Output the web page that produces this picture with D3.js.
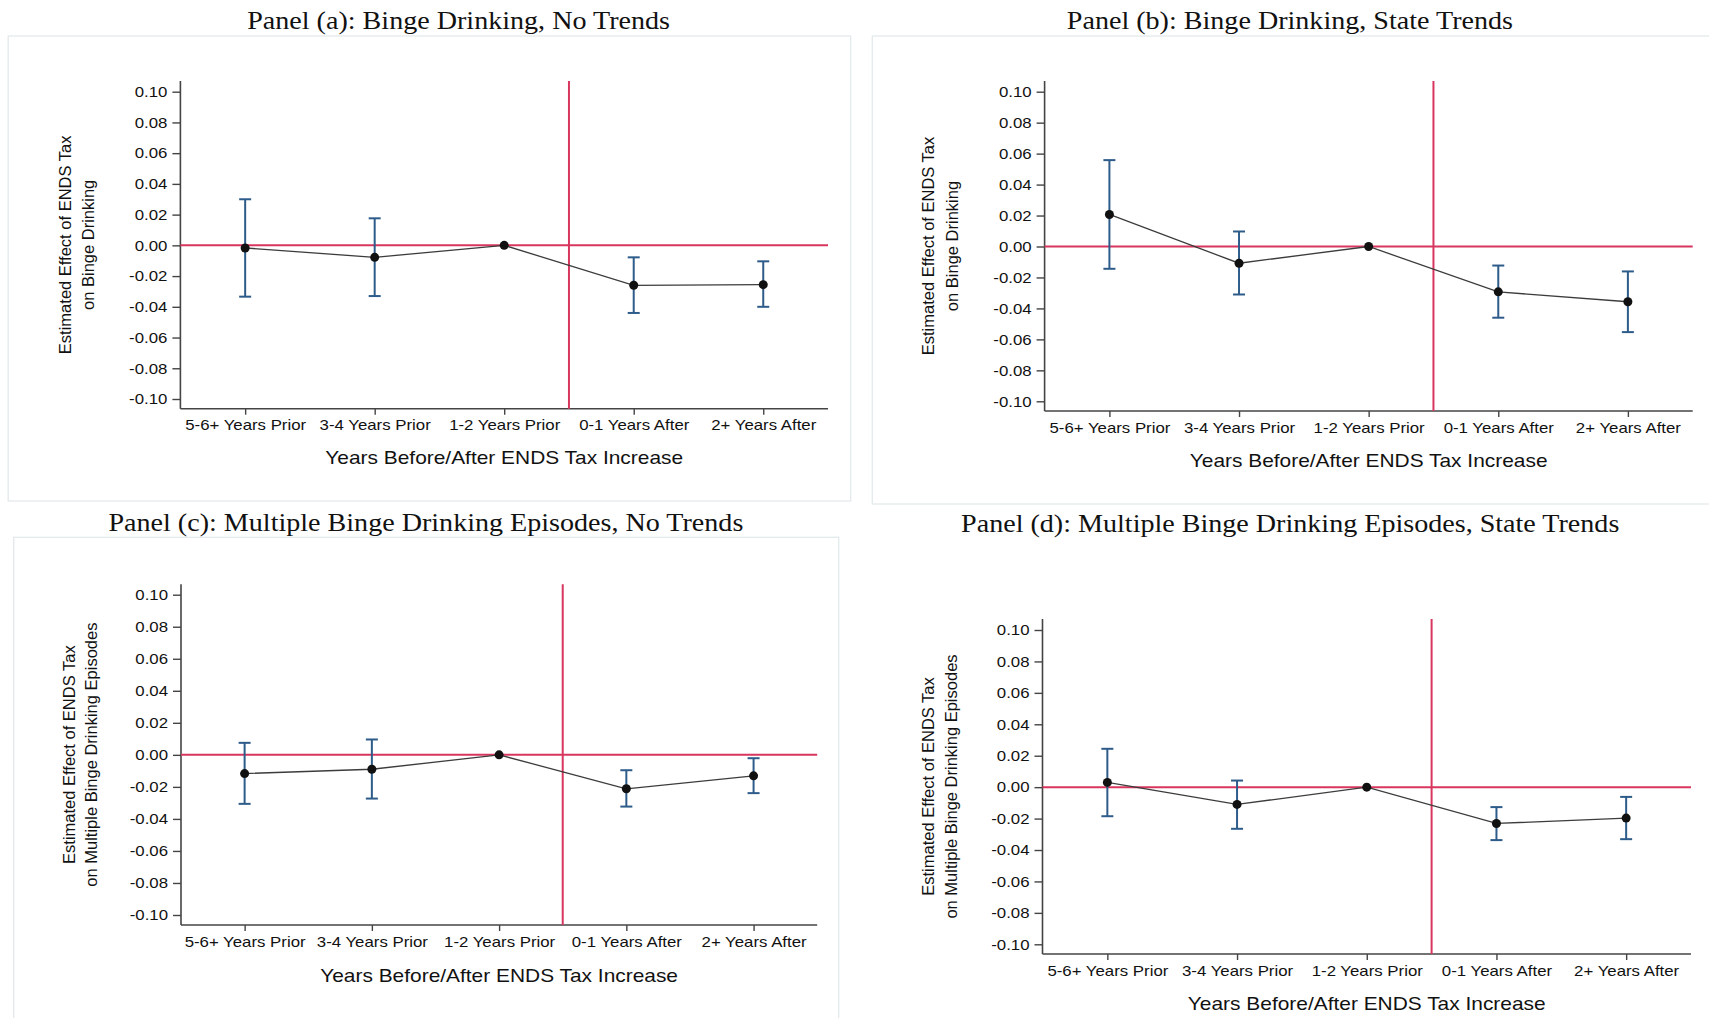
<!DOCTYPE html>
<html>
<head>
<meta charset="utf-8">
<script src="https://cdn.jsdelivr.net/npm/d3@7"></script>
<style>
  body { margin: 0; background: #fff; }
</style>
</head>
<body>
<div id="viz"></div>
<script>
// categories on the x axis
const categories = ['5-6+ Years Prior', '3-4 Years Prior', '1-2 Years Prior', '0-1 Years After', '2+ Years After'];

// y ticks and their labels
const yTicks = [0.10, 0.08, 0.06, 0.04, 0.02, 0.00, -0.02, -0.04, -0.06, -0.08, -0.10];
const yTickLabels = ['0.10', '0.08', '0.06', '0.04', '0.02', '0.00', '-0.02', '-0.04', '-0.06', '-0.08', '-0.10'];

const titles = [
  'Panel (a): Binge Drinking, No Trends',
  'Panel (b): Binge Drinking, State Trends',
  'Panel (c): Multiple Binge Drinking Episodes, No Trends',
  'Panel (d): Multiple Binge Drinking Episodes, State Trends'
];
const yTitleTop = 'Estimated Effect of ENDS Tax';
const yTitleBottom = ['on Binge Drinking', 'on Binge Drinking', 'on Multiple Binge Drinking Episodes', 'on Multiple Binge Drinking Episodes'];
const xTitle = 'Years Before/After ENDS Tax Increase';

// estimates and confidence bounds
const estA = [-0.0017, -0.0078, 0, -0.0260, -0.0256];
const loA = [-0.0334, -0.0330, 0, -0.0440, -0.0400];
const hiA = [0.0300, 0.0176, 0, -0.0078, -0.0104];

const estB = [0.0207, -0.0108, 0, -0.0293, -0.0357];
const loB = [-0.0144, -0.0310, 0, -0.0460, -0.0553];
const hiB = [0.0558, 0.0097, 0, -0.0123, -0.0161];

const estC = [-0.0117, -0.0090, 0, -0.0212, -0.0131];
const loC = [-0.0306, -0.0273, 0, -0.0323, -0.0239];
const hiC = [0.0075, 0.0096, 0, -0.0096, -0.0021];

const estD = [0.0030, -0.0110, 0, -0.0231, -0.0197];
const loD = [-0.0185, -0.0265, 0, -0.0337, -0.0331];
const hiD = [0.0244, 0.0042, 0, -0.0127, -0.0062];

const series = [[estA, loA, hiA], [estB, loB, hiB], [estC, loC, hiC], [estD, loD, hiD]];

// where each panel sits on the page
const layout = [
  { x0: 180.4, x1: 828, yTop: 81, yBot: 408.7, yHi: 91.7, yLo: 399, titleX: 458.6, titleY: 20, ytX: [64.7, 87.8], xTitleY: 456.7, box: [8.2, 36, 850.7, 501] },
  { x0: 1044.6, x1: 1692.7, yTop: 81, yBot: 411, yHi: 91.7, yLo: 401.3, titleX: 1289.9, titleY: 20, ytX: [927.7, 952], xTitleY: 460, box: [872.3, 36, 1712, 504] },
  { x0: 181, x1: 817.2, yTop: 584.3, yBot: 925, yHi: 594.7, yLo: 915, titleX: 425.9, titleY: 521.7, ytX: [68.6, 90.5], xTitleY: 975, box: [13.7, 537.3, 838.7, 1030] },
  { x0: 1042.5, x1: 1691, yTop: 619, yBot: 954, yHi: 630, yLo: 944.3, titleX: 1290.2, titleY: 522.7, ytX: [927.7, 951], xTitleY: 1002.7, box: null }
];

const sans = '"Liberation Sans", Arial, Helvetica, sans-serif';
const serif = '"Liberation Serif", "Times New Roman", serif';
const red = '#d8365e';
const blue = '#2e5c8a';
const axisCol = '#444';

// widen text a bit, the original figure is stretched horizontally
function stretch(sel, k) {
  sel.each(function () {
    const w = this.getComputedTextLength();
    d3.select(this).attr('textLength', w * k).attr('lengthAdjust', 'spacingAndGlyphs');
  });
}

const svg = d3.select('#viz')
  .append('svg')
  .attr('width', 1709)
  .attr('height', 1018);

function drawPanel(i) {
  const p = layout[i];
  const [est, lo, hi] = series[i];
  const g = svg.append('g');

  if (p.box) {
    g.append('rect')
      .attr('x', p.box[0]).attr('y', p.box[1])
      .attr('width', p.box[2] - p.box[0]).attr('height', p.box[3] - p.box[1])
      .attr('fill', 'none')
      .attr('stroke', '#e3eaec')
      .attr('stroke-width', 1.3);
  }

  const x = d3.scalePoint().domain(categories).range([p.x0, p.x1]).padding(0.5);
  const y = d3.scaleLinear().domain([-0.10, 0.10]).range([p.yLo, p.yHi]);

  // y axis
  const yAxis = d3.axisLeft(y)
    .tickValues(yTicks)
    .tickFormat(d => yTickLabels[yTicks.indexOf(d)])
    .tickSize(8)
    .tickPadding(5)
    .tickSizeOuter(0);
  const ya = g.append('g').attr('transform', `translate(${p.x0},0)`).call(yAxis);
  ya.select('.domain').remove();
  ya.selectAll('line').attr('stroke', axisCol).attr('stroke-width', 1.4);
  ya.selectAll('text').attr('font-family', sans).attr('font-size', 15).attr('fill', '#111');
  stretch(ya.selectAll('text'), 1.12);

  // x axis
  const xAxis = d3.axisBottom(x).tickSize(6).tickPadding(5).tickSizeOuter(0);
  const xa = g.append('g').attr('transform', `translate(0,${p.yBot})`).call(xAxis);
  xa.select('.domain').remove();
  xa.selectAll('line').attr('stroke', axisCol).attr('stroke-width', 1.4);
  xa.selectAll('text').attr('font-family', sans).attr('font-size', 15).attr('fill', '#111');
  stretch(xa.selectAll('text'), 1.12);

  // axis lines
  g.append('line')
    .attr('x1', p.x0).attr('x2', p.x0).attr('y1', p.yTop).attr('y2', p.yBot)
    .attr('stroke', axisCol).attr('stroke-width', 1.6);
  g.append('line')
    .attr('x1', p.x0).attr('x2', p.x1).attr('y1', p.yBot).attr('y2', p.yBot)
    .attr('stroke', axisCol).attr('stroke-width', 1.6);

  // reference lines
  g.append('line')
    .attr('x1', p.x0).attr('x2', p.x1).attr('y1', y(0)).attr('y2', y(0))
    .attr('stroke', red).attr('stroke-width', 2);
  const xv = (x(categories[2]) + x(categories[3])) / 2;
  g.append('line')
    .attr('x1', xv).attr('x2', xv).attr('y1', p.yTop).attr('y2', p.yBot)
    .attr('stroke', red).attr('stroke-width', 2);

  // confidence intervals
  const idx = d3.range(categories.length).filter(j => hi[j] !== lo[j]);
  const bars = g.append('g').attr('stroke', blue).attr('stroke-width', 2);
  bars.selectAll('.ci')
    .data(idx)
    .enter()
    .append('line')
    .attr('x1', j => x(categories[j])).attr('x2', j => x(categories[j]))
    .attr('y1', j => y(lo[j])).attr('y2', j => y(hi[j]));
  ['lo', 'hi'].forEach(k => {
    const v = k === 'lo' ? lo : hi;
    bars.selectAll('.cap-' + k)
      .data(idx)
      .enter()
      .append('line')
      .attr('x1', j => x(categories[j]) - 6).attr('x2', j => x(categories[j]) + 6)
      .attr('y1', j => y(v[j])).attr('y2', j => y(v[j]));
  });

  // connecting line
  const line = d3.line()
    .x(j => x(categories[j]))
    .y(j => y(est[j]));
  g.append('path')
    .datum(d3.range(categories.length))
    .attr('d', line)
    .attr('fill', 'none')
    .attr('stroke', '#3c3c3c')
    .attr('stroke-width', 1.3);

  g.selectAll('.pt')
    .data(d3.range(categories.length))
    .enter()
    .append('circle')
    .attr('cx', j => x(categories[j]))
    .attr('cy', j => y(est[j]))
    .attr('r', 4.5)
    .attr('fill', '#111');

  // titles
  const t = g.append('text')
    .attr('x', p.titleX).attr('y', p.titleY + 9)
    .attr('text-anchor', 'middle')
    .attr('font-family', serif)
    .attr('font-size', 26)
    .attr('fill', '#111')
    .text(titles[i]);
  stretch(t, 1.08);

  const xt = g.append('text')
    .attr('x', (p.x0 + p.x1) / 2).attr('y', p.xTitleY + 6.8)
    .attr('text-anchor', 'middle')
    .attr('font-family', sans)
    .attr('font-size', 19)
    .attr('fill', '#111')
    .text(xTitle);
  stretch(xt, 1.1);

  const cy = (p.yTop + p.yBot) / 2;
  [yTitleTop, yTitleBottom[i]].forEach((s, k) => {
    const bx = p.ytX[k] + 6;
    g.append('text')
      .attr('transform', `translate(${bx},${cy}) rotate(-90)`)
      .attr('text-anchor', 'middle')
      .attr('font-family', sans)
      .attr('font-size', 16.5)
      .attr('fill', '#111')
      .text(s);
  });
}

layout.forEach((p, i) => drawPanel(i));
</script>
</body>
</html>
